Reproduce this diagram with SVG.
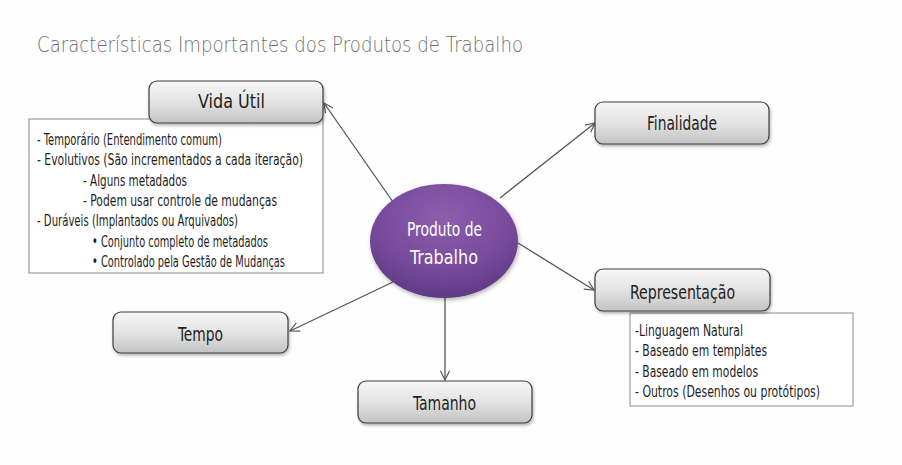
<svg xmlns="http://www.w3.org/2000/svg" width="902" height="465" viewBox="0 0 902 465">
<defs>
<linearGradient id="boxg" x1="0" y1="0" x2="0" y2="1">
<stop offset="0" stop-color="#f7f7f7"/>
<stop offset="0.5" stop-color="#e3e3e3"/>
<stop offset="1" stop-color="#c3c3c3"/>
</linearGradient>
<radialGradient id="ellg" cx="0.5" cy="0.3" r="0.75">
<stop offset="0" stop-color="#8c5fac"/>
<stop offset="0.6" stop-color="#774a9b"/>
<stop offset="1" stop-color="#5a3780"/>
</radialGradient>
<filter id="sh" x="-10%" y="-10%" width="125%" height="135%">
<feDropShadow dx="1" dy="2" stdDeviation="1.5" flood-color="#000" flood-opacity="0.3"/>
</filter>
<filter id="esh" x="-10%" y="-10%" width="125%" height="130%">
<feDropShadow dx="1" dy="2" stdDeviation="2" flood-color="#000" flood-opacity="0.3"/>
</filter>
<marker id="arr" viewBox="0 0 12 12" refX="11" refY="6" markerWidth="11" markerHeight="11" markerUnits="userSpaceOnUse" orient="auto">
<path d="M1,1 L11,6 L1,11" fill="none" stroke="#555" stroke-width="1.3"/>
</marker>
<style>
.box{fill:url(#boxg);stroke:#3c3c3c;stroke-width:1.2;filter:url(#sh)}
.lbl{font-family:"DejaVu Sans Condensed","Liberation Sans Narrow","DejaVu Sans",sans-serif;font-stretch:condensed;font-size:20px;fill:#1e1e1e}
.lst{font-family:"DejaVu Sans Condensed","Liberation Sans Narrow","DejaVu Sans",sans-serif;font-stretch:condensed;font-size:15.5px;fill:#1e1e1e}
.panel{fill:#fff;stroke:#8a8a8a;stroke-width:1}
.con{stroke:#555;stroke-width:1.3;fill:none;marker-end:url(#arr)}
.ct{font-family:"DejaVu Sans Condensed","Liberation Sans Narrow","DejaVu Sans",sans-serif;font-stretch:condensed;font-size:20px;fill:#fff}
</style>
</defs>
<rect width="902" height="465" fill="#fefefe"/>
<text x="37" y="52" font-family="'DejaVu Sans',sans-serif" font-weight="200" font-size="21" fill="#707070" textLength="486" lengthAdjust="spacingAndGlyphs">Características Importantes dos Produtos de Trabalho</text>

<g id="connectors">
<line class="con" x1="393" y1="202" x2="324" y2="103"/>
<line class="con" x1="500" y1="198" x2="595" y2="123"/>
<line class="con" x1="518" y1="243" x2="594" y2="290"/>
<line class="con" x1="393" y1="282" x2="290" y2="331"/>
<line class="con" x1="445" y1="298" x2="445" y2="380"/>
</g>

<g id="vida-util-detalhes">
<rect class="panel" x="29" y="119" width="294" height="154"/>
<text class="lst" x="37" y="145" textLength="185" lengthAdjust="spacingAndGlyphs">- Temporário (Entendimento comum)</text>
<text class="lst" x="37" y="165" textLength="266" lengthAdjust="spacingAndGlyphs">- Evolutivos (São incrementados a cada iteração)</text>
<text class="lst" x="83" y="186" textLength="104" lengthAdjust="spacingAndGlyphs">- Alguns metadados</text>
<text class="lst" x="83" y="206" textLength="194" lengthAdjust="spacingAndGlyphs">- Podem usar controle de mudanças</text>
<text class="lst" x="37" y="226" textLength="201" lengthAdjust="spacingAndGlyphs">- Duráveis (Implantados ou Arquivados)</text>
<text class="lst" x="92" y="247" textLength="176" lengthAdjust="spacingAndGlyphs">• Conjunto completo de metadados</text>
<text class="lst" x="92" y="267" textLength="193" lengthAdjust="spacingAndGlyphs">• Controlado pela Gestão de Mudanças</text>
</g>

<g id="vida-util">
<rect class="box" x="149" y="81" width="174" height="42" rx="8"/>
<text class="lbl" x="198" y="108" textLength="67" lengthAdjust="spacingAndGlyphs">Vida Útil</text>
</g>

<g id="finalidade">
<rect class="box" x="595" y="102" width="174" height="42" rx="8"/>
<text class="lbl" x="647" y="130" textLength="70" lengthAdjust="spacingAndGlyphs">Finalidade</text>
</g>

<g id="representacao-detalhes">
<rect class="panel" x="630" y="313" width="223" height="93"/>
<text class="lst" x="635" y="336" textLength="108" lengthAdjust="spacingAndGlyphs">-Linguagem Natural</text>
<text class="lst" x="635" y="356" textLength="132" lengthAdjust="spacingAndGlyphs">- Baseado em templates</text>
<text class="lst" x="635" y="377" textLength="123" lengthAdjust="spacingAndGlyphs">- Baseado em modelos</text>
<text class="lst" x="635" y="397" textLength="185" lengthAdjust="spacingAndGlyphs">- Outros (Desenhos ou protótipos)</text>
</g>

<g id="representacao">
<rect class="box" x="595" y="269" width="175" height="42" rx="8"/>
<text class="lbl" x="630" y="299" textLength="105" lengthAdjust="spacingAndGlyphs">Representação</text>
</g>

<g id="tempo">
<rect class="box" x="113" y="312" width="175" height="41" rx="8"/>
<text class="lbl" x="178" y="341" textLength="45" lengthAdjust="spacingAndGlyphs">Tempo</text>
</g>

<g id="tamanho">
<rect class="box" x="358" y="381" width="174" height="42" rx="8"/>
<text class="lbl" x="413" y="410" textLength="63" lengthAdjust="spacingAndGlyphs">Tamanho</text>
</g>

<g id="produto-de-trabalho">
<ellipse cx="444" cy="241" rx="74" ry="57" fill="url(#ellg)" filter="url(#esh)"/>
<text class="ct" x="407" y="236" textLength="75" lengthAdjust="spacingAndGlyphs">Produto de</text>
<text class="ct" x="410" y="264" textLength="68" lengthAdjust="spacingAndGlyphs">Trabalho</text>
</g>
</svg>
